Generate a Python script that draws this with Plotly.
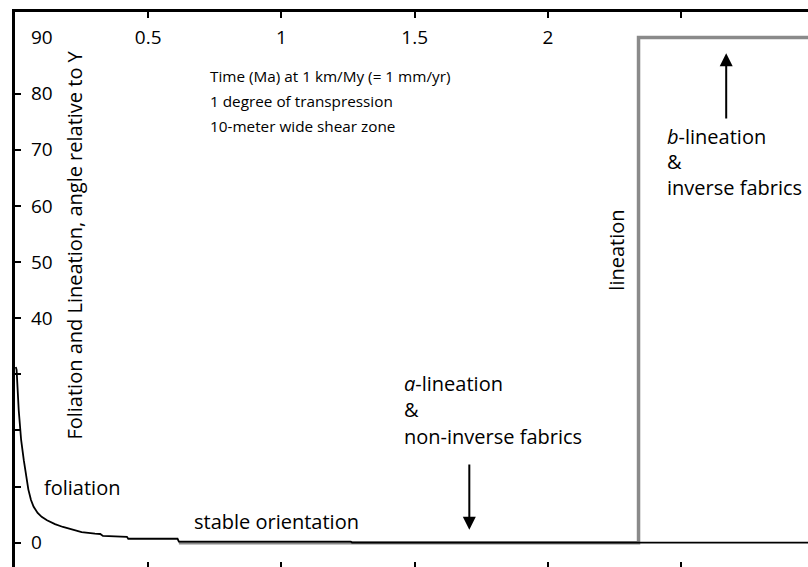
import plotly.graph_objects as go

# ---- data ----
fol_t = [0.003, 0.006, 0.014, 0.023, 0.033, 0.042, 0.05, 0.06, 0.07, 0.085, 0.1, 0.12,
         0.15, 0.18, 0.21, 0.25, 0.3, 0.32, 0.33, 0.42, 0.425, 0.61, 0.615, 1.26, 1.265, 2.98]
fol_deg = [31.3, 30.8, 23.6, 18.3, 14.7, 11.5, 9.5, 7.6, 6.4, 5.3, 4.6, 4.0,
           3.3, 2.8, 2.4, 1.9, 1.6, 1.55, 1.2, 1.05, 0.7, 0.7, 0.2, 0.2, 0.0, 0.0]

lin_t = [0.615, 2.34, 2.34, 2.98]
lin_deg = [0, 0, 90, 90]

y_ticks = [0, 10, 20, 30, 40, 50, 60, 70, 80, 90]
y_ticktext = ["0", "", "", "", "40", "50", "60", "70", "80", "90"]
x_ticks = [0.5, 1, 1.5, 2, 2.5]
x_ticktext = ["0.5", "1", "1.5", "2", ""]

FONT = "Open Sans"
fs_small = 15.3
fs = 20

fig = go.Figure()
fig.add_trace(go.Scatter(x=lin_t, y=lin_deg, mode="lines",
                         line=dict(color="#8a8a8a", width=3.5), showlegend=False))
fig.add_trace(go.Scatter(x=fol_t, y=fol_deg, mode="lines",
                         line=dict(color="black", width=1.8), showlegend=False))
# invisible traces for the label axes
fig.add_trace(go.Scatter(x=[0], y=[0], xaxis="x2", mode="markers",
                         marker=dict(opacity=0), showlegend=False, hoverinfo="skip"))
fig.add_trace(go.Scatter(x=[0], y=[0], yaxis="y2", mode="markers",
                         marker=dict(opacity=0), showlegend=False, hoverinfo="skip"))

XR = [0, 2.976]
YR = [-4.33, 94.55]
tickfont = dict(family=FONT, size=19, color="black")
fig.update_layout(
    width=808, height=567,
    margin=dict(l=15, r=0, t=12, b=0),
    paper_bgcolor="white", plot_bgcolor="white",
    font=dict(family=FONT, size=fs, color="black"),
    xaxis=dict(range=XR, showgrid=False, zeroline=False, showline=False,
               tickvals=x_ticks, ticks="inside", ticklen=5, tickwidth=1.5,
               tickcolor="black", showticklabels=False),
    xaxis2=dict(range=XR, overlaying="x", side="top", showgrid=False, zeroline=False,
                showline=True, linewidth=3, linecolor="black",
                tickvals=x_ticks, ticktext=x_ticktext, ticks="inside", ticklen=6,
                tickwidth=2, tickcolor="black", ticklabelposition="inside",
                ticklabelstandoff=14, tickfont=tickfont),
    yaxis=dict(range=YR, showgrid=False, zeroline=False,
               showline=True, linewidth=3, linecolor="black",
               tickvals=y_ticks, ticks="inside", ticklen=6,
               tickwidth=2, tickcolor="black", showticklabels=False),
    yaxis2=dict(range=YR, overlaying="y", anchor="free", position=0, side="right",
                showgrid=False, zeroline=False, showline=False, ticks="",
                tickvals=y_ticks, ticktext=y_ticktext, ticklabelstandoff=15,
                tickfont=tickfont, automargin=False),
)

def txt(x, y, s, size=fs, **kw):
    d = dict(x=x, y=y, text=s, showarrow=False, xanchor="left", yanchor="middle",
             font=dict(family=FONT, size=size, color="black"))
    d.update(kw)
    fig.add_annotation(**d)

txt(0.726, 83.2, "Time (Ma) at 1 km/My (= 1 mm/yr)", size=fs_small)
txt(0.726, 78.7, "1 degree of transpression", size=fs_small)
txt(0.726, 74.3, "10-meter wide shear zone", size=fs_small)
txt(0.101, 9.9, "foliation")
txt(0.664, 3.7, "stable orientation")
txt(1.452, 28.4, "<i>a</i>-lineation")
txt(1.452, 23.8, "&amp;")
txt(1.452, 19.0, "non-inverse fabrics")
txt(2.439, 72.3, "<i>b</i>-lineation")
txt(2.439, 67.9, "&amp;")
txt(2.439, 63.2, "inverse fabrics")
txt(2.259, 52.2, "lineation", textangle=-90, xanchor="center")
txt(0.225, 53.1, "Foliation and Lineation, angle relative to Y", textangle=-90,
    xanchor="center")

# arrows
fig.add_annotation(x=1.705, y=2.3, ax=1.705, ay=14.2, axref="x", ayref="y",
                   showarrow=True, arrowhead=2, arrowsize=1.3, arrowwidth=2,
                   arrowcolor="black", text="")
fig.add_annotation(x=2.669, y=87.2, ax=2.669, ay=75.3, axref="x", ayref="y",
                   showarrow=True, arrowhead=2, arrowsize=1.3, arrowwidth=2,
                   arrowcolor="black", text="")

fig.write_html("out.html")
